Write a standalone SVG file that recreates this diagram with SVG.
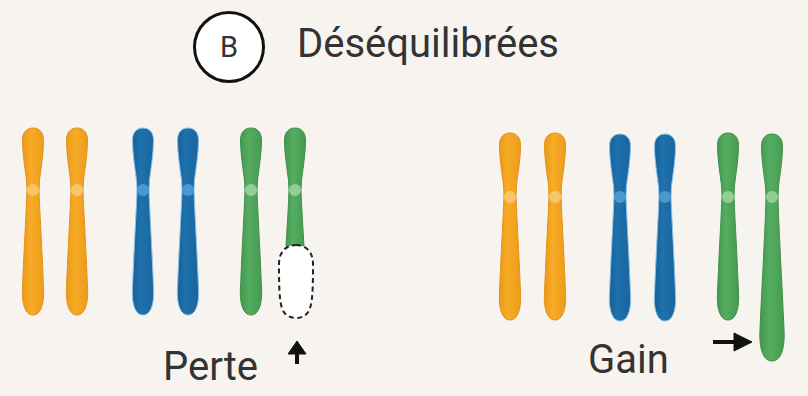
<svg xmlns="http://www.w3.org/2000/svg" width="808" height="396" viewBox="0 0 808 396">
  <style>
    .label { font-family: Roboto, "Liberation Sans", sans-serif; fill: #333333; }
    .orange { fill: url(#gOrange); stroke: #E3921A; stroke-width: 1; }
    .blue { fill: url(#gBlue); stroke: #8CC3E6; stroke-width: 1; }
    .green { fill: url(#gGreen); stroke: #3F8F4A; stroke-width: 1; }
    .cen-o { fill: #F8C56A; }
    .cen-b { fill: #4A98CE; }
    .cen-g { fill: #92CE93; }
    .arrow { fill: #111111; stroke: #111111; }
  </style>
  <defs>
    <linearGradient id="gOrange" x1="0" y1="0" x2="1" y2="0">
      <stop offset="0" stop-color="#EA9A18"/>
      <stop offset="0.4" stop-color="#F7AB26"/>
      <stop offset="1" stop-color="#EC9C1A"/>
    </linearGradient>
    <linearGradient id="gBlue" x1="0" y1="0" x2="1" y2="0">
      <stop offset="0" stop-color="#17609A"/>
      <stop offset="0.4" stop-color="#1F72AD"/>
      <stop offset="1" stop-color="#18649E"/>
    </linearGradient>
    <linearGradient id="gGreen" x1="0" y1="0" x2="1" y2="0">
      <stop offset="0" stop-color="#43984F"/>
      <stop offset="0.4" stop-color="#55AD60"/>
      <stop offset="1" stop-color="#459B51"/>
    </linearGradient>
    <!-- standard chromosome, centre x = 0, top y = 0, centromere at y = 62 -->
    <path id="chromo" d="M0,0 C6,0 10.5,4 10.5,12 C10.5,26 8,40 6.5,52 L6,62 C6.5,80 9,120 10.5,160 C11.5,175 8,187 0,187 C-8,187 -11.5,175 -10.5,160 C-9,120 -6.5,80 -6,62 L-6.5,52 C-8,40 -10.5,26 -10.5,12 C-10.5,4 -6,0 0,0 Z"/>
    <!-- chromosome with an extended long arm -->
    <path id="chromoLong" d="M0,0 C6,0 10.5,4 10.5,12 C10.5,26 8,40 6.5,52 L6,63 C6.5,90 10,150 12,195 C13,212 10,227 0,227 C-10,227 -13,212 -12,195 C-10,150 -6.5,90 -6,63 L-6.5,52 C-8,40 -10.5,26 -10.5,12 C-10.5,4 -6,0 0,0 Z"/>
    <!-- chromosome with a truncated long arm -->
    <path id="chromoShort" d="M0,0 C6,0 10.5,4 10.5,12 C10.5,26 8,40 6.5,52 L6,62 C6.5,80 8,100 9,118 C5,121 -5,121 -9,118 C-8,100 -6.5,80 -6,62 L-6.5,52 C-8,40 -10.5,26 -10.5,12 C-10.5,4 -6,0 0,0 Z"/>
  </defs>

  <rect width="808" height="396" fill="#F7F4F0"/>

  <!-- heading -->
  <g id="heading">
    <circle cx="229" cy="47" r="34.5" fill="#FFFFFF" stroke="#111111" stroke-width="3"/>
    <text class="label" x="229" y="57" font-size="29" text-anchor="middle" fill="#222222">B</text>
    <text class="label" x="297" y="57" font-size="40">Déséquilibrées</text>
  </g>

  <!-- left set: loss -->
  <g id="perte">
    <g id="perte-orange-1" transform="translate(33,128)"><use href="#chromo" class="orange"/><circle cy="62" r="6" class="cen-o"/></g>
    <g id="perte-orange-2" transform="translate(77,128)"><use href="#chromo" class="orange"/><circle cy="62" r="6" class="cen-o"/></g>
    <g id="perte-blue-1" transform="translate(143,128)"><use href="#chromo" class="blue"/><circle cy="62" r="6" class="cen-b"/></g>
    <g id="perte-blue-2" transform="translate(188,128)"><use href="#chromo" class="blue"/><circle cy="62" r="6" class="cen-b"/></g>
    <g id="perte-green-1" transform="translate(251,128)"><use href="#chromo" class="green"/><circle cy="62" r="6" class="cen-g"/></g>
    <g id="perte-green-2" transform="translate(295,128)"><use href="#chromoShort" class="green"/><circle cy="62" r="6" class="cen-g"/></g>
    <!-- missing segment outline -->
    <path id="perte-missing" d="M296,245 C306,245 313,252 313,264 C313,280 313,300 310,308 C308,315 302,318 296,318 C290,318 284,315 282,308 C279,300 279,280 279,264 C279,252 286,245 296,245 Z" fill="#FFFFFF" stroke="#222222" stroke-width="2" stroke-dasharray="5 3.5"/>
    <text class="label" x="163" y="380" font-size="40">Perte</text>
  </g>

  <!-- right set: gain -->
  <g id="gain">
    <g id="gain-orange-1" transform="translate(510,133)"><use href="#chromo" class="orange"/><circle cy="64" r="6" class="cen-o"/></g>
    <g id="gain-orange-2" transform="translate(555,133)"><use href="#chromo" class="orange"/><circle cy="64" r="6" class="cen-o"/></g>
    <g id="gain-blue-1" transform="translate(620,134)"><use href="#chromo" class="blue"/><circle cy="63" r="6" class="cen-b"/></g>
    <g id="gain-blue-2" transform="translate(665,134)"><use href="#chromo" class="blue"/><circle cy="63" r="6" class="cen-b"/></g>
    <g id="gain-green-1" transform="translate(728,133)"><use href="#chromo" class="green"/><circle cy="64" r="6" class="cen-g"/></g>
    <g id="gain-green-2" transform="translate(772,134)"><use href="#chromoLong" class="green"/><circle cy="63" r="6" class="cen-g"/></g>
    <text class="label" x="588" y="373" font-size="40">Gain</text>
  </g>

  <!-- pointers -->
  <g id="connectors">
    <path class="arrow" d="M297,364 L297,352" stroke-width="4" fill="none"/>
    <path class="arrow" d="M297,341 L306,354 L288,354 Z" stroke-width="1"/>
    <path class="arrow" d="M713,342 L735,342" stroke-width="4" fill="none"/>
    <path class="arrow" d="M752,342 L734,333 L734,351 Z" stroke-width="1"/>
  </g>
</svg>
